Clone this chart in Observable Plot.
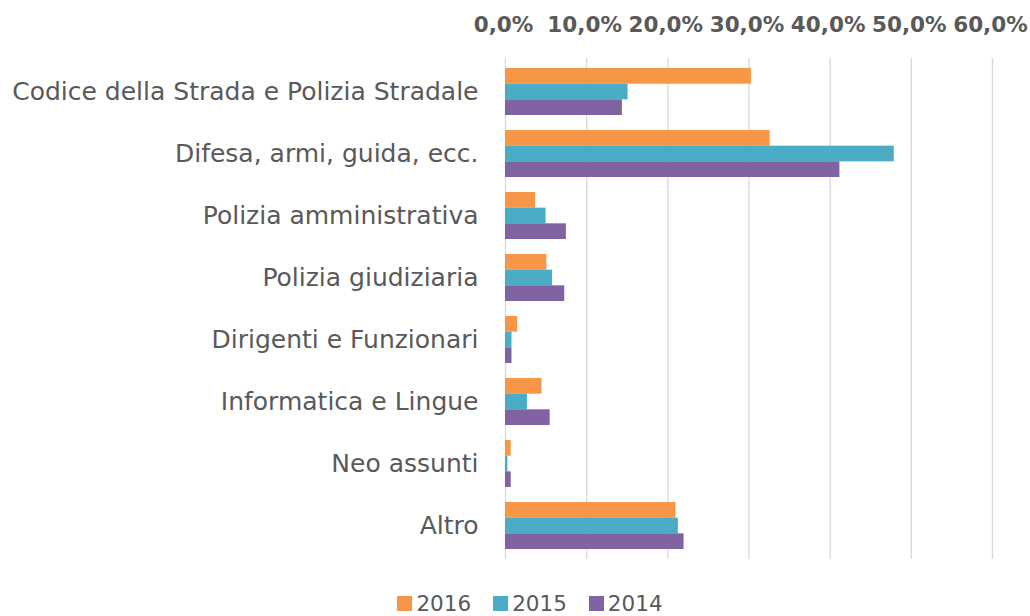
<!DOCTYPE html>
<html>
<head>
<meta charset="utf-8">
<script src="https://cdn.jsdelivr.net/npm/d3@7"></script>
<script src="https://cdn.jsdelivr.net/npm/@observablehq/plot@0.6"></script>
<style>
  html, body { margin: 0; padding: 0; background: #fff; }
  #chart svg { display: block; }
  #legend { display: flex; justify-content: center; gap: 22px; font-family: "DejaVu Sans", sans-serif; font-size: 21.5px; color: #595959; height: 41px; margin-top: 8px; align-items: center; padding-left: 30px; }
  #legend span.item { display: flex; align-items: center; }
  #legend span.sw { display: inline-block; width: 15px; height: 15px; margin-right: 4px; }
</style>
</head>
<body>
<div id="chart"></div>
<div id="legend"></div>
<script>
const categories = [
  "Codice della Strada e Polizia Stradale",
  "Difesa, armi, guida, ecc.",
  "Polizia amministrativa",
  "Polizia giudiziaria",
  "Dirigenti e Funzionari",
  "Informatica e Lingue",
  "Neo assunti",
  "Altro"
];
const years = ["2016", "2015", "2014"];
const values2016 = [30.3, 32.6, 3.7, 5.1, 1.5, 4.5, 0.7, 21.0];
const values2015 = [15.1, 47.9, 5.0, 5.8, 0.8, 2.7, 0.3, 21.3];
const values2014 = [14.4, 41.2, 7.5, 7.3, 0.8, 5.5, 0.7, 22.0];
const colors = ["#F79646", "#4BACC6", "#8064A2"];
const xTicks = [0, 10, 20, 30, 40, 50, 60];

const series = [values2016, values2015, values2014];
const data = years.map((y, i) => categories.map((c, j) => ({category: c, year: y, value: series[i][j]})));

const width = 1030, height = 575, marginTop = 58, marginBottom = 16;
const paddingInner = 0.25, paddingOuter = 0.125;
const step = (height - marginTop - marginBottom) / (categories.length - paddingInner + 2 * paddingOuter);
const bw = step * (1 - paddingInner);
const third = bw / 3;

const fmt = d => d.toFixed(1).replace(".", ",") + "%";

const chart = Plot.plot({
  width, height,
  marginTop, marginBottom,
  marginLeft: 505, marginRight: 38,
  style: {fontFamily: "DejaVu Sans, sans-serif", color: "#595959", background: "#fff"},
  x: {domain: [0, 60], ticks: xTicks, tickFormat: fmt, axis: null},
  y: {domain: categories, paddingInner, paddingOuter, axis: null},
  marks: [
    Plot.gridX(xTicks, {stroke: "#d9d9d9", strokeOpacity: 1, strokeWidth: 1.3}),
    ...data.map((d, i) => Plot.barX(d, {
      x: "value", y: "category", fill: colors[i],
      insetTop: i * third, insetBottom: (2 - i) * third
    })),
    Plot.axisX(xTicks, {anchor: "top", tickSize: 0, tickPadding: 27, tickFormat: fmt, label: null,
      fontSize: 21.5, fontWeight: "bold", fontFamily: "DejaVu Sans, sans-serif", fill: "#595959", dx: -2}),
    Plot.axisY(categories, {anchor: "left", tickSize: 0, tickPadding: 27, label: null,
      fontSize: 25, fill: "#595959", fontFamily: "DejaVu Sans, sans-serif"})
  ]
});
document.getElementById("chart").appendChild(chart);

const legend = document.getElementById("legend");
years.forEach((y, i) => {
  const item = document.createElement("span");
  item.className = "item";
  const sw = document.createElement("span");
  sw.className = "sw";
  sw.style.background = colors[i];
  item.appendChild(sw);
  item.appendChild(document.createTextNode(y));
  legend.appendChild(item);
});
</script>
</body>
</html>
